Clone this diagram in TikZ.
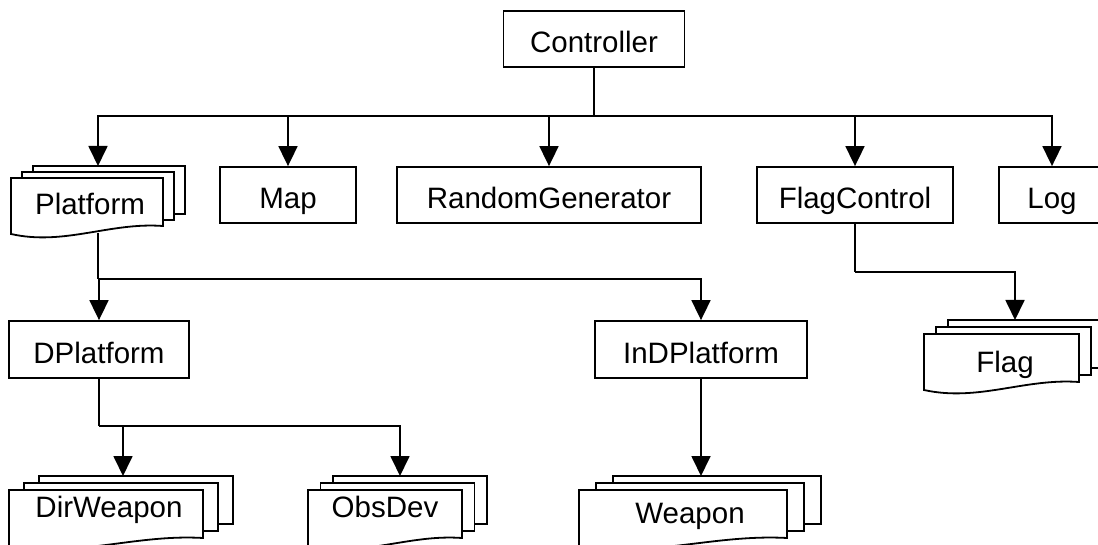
\documentclass[tikz,border=0pt]{standalone}
\usepackage{fontspec}
\setmainfont{Liberation Sans}
\usetikzlibrary{arrows.meta}
\newcommand\bigf{\fontsize{29.5}{34}\selectfont}
\tikzset{
  ln/.style={line width=1.8pt},
  box/.style={draw, ln, fill=white, minimum height=56pt, inner sep=0pt, font=\bigf, text height=27pt, text depth=0pt},
  lbl/.style={inner sep=0pt, font=\bigf},
  arr/.style={ln, -{Triangle[length=20pt,width=19pt]}}
}
% L R T dx dy : stacked document shape (front box left/right/top, layer offsets)
\newcommand\mydocstack[5]{%
  \draw[ln] ({#1+2*#4},{#3-#5}) -- ({#1+2*#4},{#3-2*#5}) -- ({#2+2*#4},{#3-2*#5}) -- ({#2+2*#4},{#3+48-2*#5}) -- ({#2+#4},{#3+48-2*#5});
  \draw[ln] ({#1+#4},{#3}) -- ({#1+#4},{#3-#5}) -- ({#2+#4},{#3-#5}) -- ({#2+#4},{#3+48-#5}) -- ({#2},{#3+48-#5});
  \draw[ln,fill=white] (#1,#3) -- (#2,#3) -- (#2,{#3+48}) .. controls ({#2-0.35*(#2-#1)},{#3+44}) and ({#1+0.35*(#2-#1)},{#3+68}) .. (#1,{#3+56}) -- cycle;
}
\begin{document}
\begin{tikzpicture}[x=1pt,y=-1pt]
\useasboundingbox (0,0) rectangle (1098,545);
\clip (0,0) rectangle (1098,545);
% stacked documents
\mydocstack{11}{163}{178}{11}{6}
\mydocstack{924}{1079}{334}{12}{7}
\mydocstack{9}{203}{490}{15}{7}
\mydocstack{308}{462}{490}{12.5}{7}
\mydocstack{579}{787}{490}{17}{7}
\node[lbl, anchor=base] (plat) at (90,215) {Platform};
\node[lbl, anchor=base] (flag) at (1005,372) {Flag};
\node[lbl, anchor=base] (dirw) at (109,517) {DirWeapon};
\node[lbl, anchor=base] (obs) at (385,517) {ObsDev};
\node[lbl, anchor=base] (weap) at (690,523) {Weapon};
\coordinate (plat-in) at (98,166);
\coordinate (plat-out) at (98,233);
\coordinate (flag-in) at (1015,320);
\coordinate (dirw-in) at (123,476);
\coordinate (obs-in) at (400,476);
\coordinate (weap-in) at (701,476);
% plain boxes
\node[box, minimum width=181pt] (ctrl) at (594,39) {Controller};
\node[box, minimum width=136pt] (map) at (288,195) {Map};
\node[box, minimum width=304pt] (rg) at (549,195) {RandomGenerator};
\node[box, minimum width=196pt] (fc) at (855,195) {FlagControl};
\node[box, minimum width=106pt] (log) at (1052,195) {Log};
\node[box, minimum width=180pt, minimum height=57pt] (dp) at (99,349.5) {DPlatform};
\node[box, minimum width=212pt, minimum height=57pt] (idp) at (701,349.5) {InDPlatform};
% connectors
\coordinate (b1) at (594,116);
\draw[ln] (ctrl.south) -- (b1);
\foreach \t in {plat-in,map.north,rg.north,fc.north,log.north}
  \draw[arr] (b1) -| (\t);
\coordinate (b2) at (98,279);
\draw[ln] (plat-out) -- (b2);
\draw[arr] (b2) -| (dp.north);
\draw[arr] (b2) -| (idp.north);
\coordinate (b3) at (99,426);
\draw[ln] (dp.south) -- (b3);
\draw[arr] (b3) -| (dirw-in);
\draw[arr] (b3) -| (obs-in);
\draw[arr] (idp.south) -- (weap-in);
\coordinate (b4) at (855,272);
\draw[ln] (fc.south) -- (b4);
\draw[arr] (b4) -| (flag-in);
\end{tikzpicture}
\end{document}
